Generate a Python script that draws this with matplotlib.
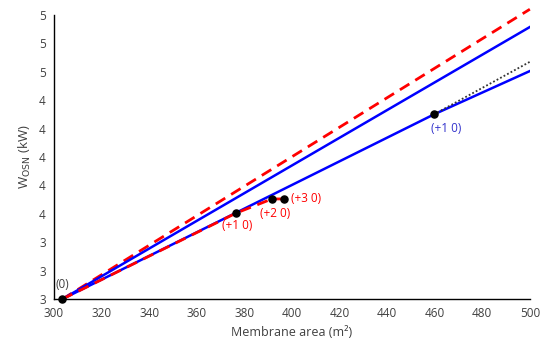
import matplotlib
matplotlib.use('Agg')
import matplotlib.pyplot as plt
import matplotlib.ticker as ticker

# === DATA ===
# upper red dashed line
red_up_x = [303.5, 500]
red_up_y = [3.0, 5.04]
# upper blue line
blue_up_x = [303.5, 500]
blue_up_y = [3.0, 4.915]
# lower blue line
blue_lo_x = [303.5, 459.7, 500]
blue_lo_y = [3.0, 4.30, 4.605]
# dotted black extension
dot_x = [459.7, 500]
dot_y = [4.30, 4.67]
# lower red dashed path
red_lo_x = [303.5, 376.5, 391.6, 396.6]
red_lo_y = [3.0, 3.605, 3.705, 3.705]
# marked points
pts_x = [303.5, 376.5, 391.6, 396.6, 459.7]
pts_y = [3.0, 3.605, 3.705, 3.705, 4.30]

plt.rcParams['font.family'] = ['Open Sans', 'DejaVu Sans']

fig = plt.figure(figsize=(5.42, 3.47), dpi=100)
ax = fig.add_axes([0.0996, 0.138, 0.878, 0.819])

ax.plot(red_up_x, red_up_y, color='#ff0000', lw=2, ls=(0, (4, 2.5)), clip_on=False)
ax.plot(blue_up_x, blue_up_y, color='#0000ff', lw=1.8)
ax.plot(blue_lo_x, blue_lo_y, color='#0000ff', lw=1.8)
ax.plot(dot_x, dot_y, color='#333333', lw=1.3, ls=(0, (1, 1.2)))
ax.plot(red_lo_x, red_lo_y, color='#ff0000', lw=2, ls=(0, (4, 2.5)))
ax.scatter(pts_x, pts_y, s=26, color='black', zorder=5, clip_on=False)

# annotations
fs = 8.5
ax.text(303.5, 3.06, '(0)', color='#404040', fontsize=fs, ha='center', va='bottom')
ax.text(377, 3.52, '(+1 0)', color='#ff0000', fontsize=fs, ha='center', va='center')
ax.text(393, 3.60, '(+2 0)', color='#ff0000', fontsize=fs, ha='center', va='center')
ax.text(399.5, 3.705, '(+3 0)', color='#ff0000', fontsize=fs, ha='left', va='center')
ax.text(465, 4.20, '(+1 0)', color='#3333cc', fontsize=fs, ha='center', va='center')

ax.set_xlim(300, 500)
ax.set_ylim(3.0, 5.0)
ax.xaxis.set_major_locator(ticker.MultipleLocator(20))
ax.yaxis.set_major_locator(ticker.MultipleLocator(0.2))
ax.yaxis.set_major_formatter(ticker.FormatStrFormatter('%.0f'))
ax.tick_params(length=0, labelsize=8.5, colors='#404040', pad=6)
ax.set_xlabel('Membrane area (m²)', fontsize=9, color='#404040')
ax.set_ylabel('W$_{\\mathrm{OSN}}$ (kW)', fontsize=9.5, color='#404040')
ax.spines['top'].set_visible(False)
ax.spines['right'].set_visible(False)
for s in ['left', 'bottom']:
    ax.spines[s].set_color('black')
    ax.spines[s].set_linewidth(1)

fig.savefig('out.png', dpi=100)
